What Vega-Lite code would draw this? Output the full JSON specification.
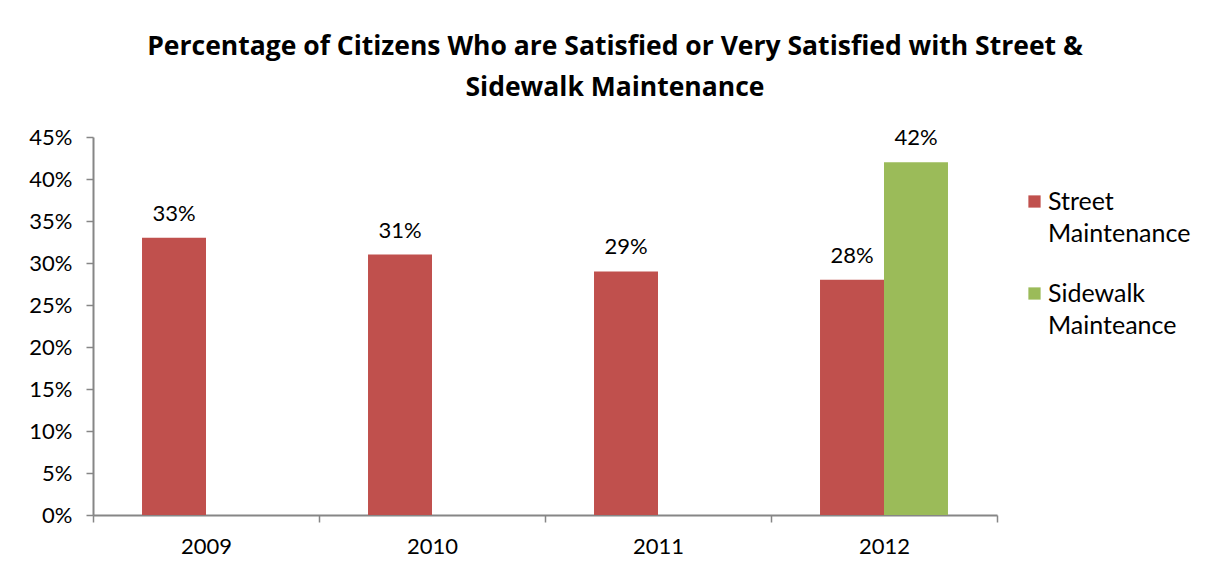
{
  "$schema": "https://vega.github.io/schema/vega-lite/v6.json",
  "width": 904,
  "height": 378,
  "autosize": {"type": "none"},
  "padding": {"left": 93, "top": 137, "right": 229, "bottom": 64},
  "background": "white",
  "config": {
    "font": "Lato",
    "view": {"stroke": null}
  },
  "title": {
    "text": ["Percentage of Citizens Who are Satisfied or Very Satisfied with Street &", "Sidewalk Maintenance"],
    "font": "Open Sans",
    "fontSize": 26.5,
    "fontWeight": "bold",
    "color": "#000000",
    "anchor": "middle",
    "dx": 70,
    "offset": 25,
    "lineHeight": 41
  },
  "data": {
    "values": [
      {"year": "2009", "series": "Street Maintenance", "value": 0.33},
      {"year": "2010", "series": "Street Maintenance", "value": 0.31},
      {"year": "2011", "series": "Street Maintenance", "value": 0.29},
      {"year": "2012", "series": "Street Maintenance", "value": 0.28},
      {"year": "2012", "series": "Sidewalk Mainteance", "value": 0.42}
    ]
  },
  "encoding": {
    "x": {
      "field": "year",
      "type": "nominal",
      "scale": {"paddingInner": 0, "paddingOuter": 0},
      "axis": {
        "title": null,
        "labelAngle": 0,
        "labelFontSize": 22,
        "labelColor": "#000000",
        "labelPadding": 14,
        "tickBand": "extent",
        "tickSize": 7,
        "tickColor": "#868686",
        "tickWidth": 1.5,
        "domainColor": "#868686",
        "domainWidth": 2
      }
    },
    "xOffset": {
      "field": "series",
      "type": "nominal",
      "scale": {
        "domain": ["Street Maintenance", "Sidewalk Mainteance"],
        "paddingInner": 0,
        "paddingOuter": 0.766
      }
    },
    "y": {
      "field": "value",
      "type": "quantitative",
      "scale": {"domain": [0, 0.45], "nice": false},
      "axis": {
        "title": null,
        "format": ".0%",
        "values": [0, 0.05, 0.1, 0.15, 0.2, 0.25, 0.3, 0.35, 0.4, 0.45],
        "grid": false,
        "labelFontSize": 22,
        "labelColor": "#000000",
        "labelPadding": 14,
        "tickSize": 7,
        "tickColor": "#868686",
        "tickWidth": 1.5,
        "domainColor": "#868686",
        "domainWidth": 2
      }
    }
  },
  "layer": [
    {
      "mark": {"type": "bar"},
      "encoding": {
        "color": {
          "field": "series",
          "type": "nominal",
          "scale": {
            "domain": ["Street Maintenance", "Sidewalk Mainteance"],
            "range": ["#C0504D", "#9BBB59"]
          },
          "legend": {
            "title": null,
            "orient": "none",
            "legendX": 929,
            "legendY": 52,
            "symbolType": "square",
            "symbolSize": 150,
            "symbolOpacity": 1,
            "labelFontSize": 25,
            "labelColor": "#000000",
            "labelOffset": 1,
            "labelBaseline": "top",
            "rowPadding": 34,
            "labelExpr": "split(datum.label, ' ')",
            "encode": {
              "labels": {"update": {"lineHeight": {"value": 32}, "dy": {"value": -12}}}
            }
          }
        }
      }
    },
    {
      "mark": {"type": "text", "baseline": "bottom", "dy": -12, "fontSize": 22, "color": "#000000"},
      "encoding": {
        "text": {"field": "value", "type": "quantitative", "format": ".0%"}
      }
    }
  ]
}
